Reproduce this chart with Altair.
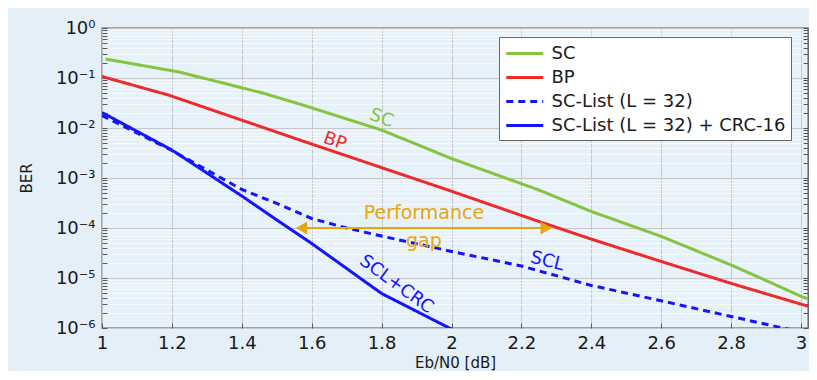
import altair as alt
import pandas as pd

# ---------------- data ----------------
series = ["SC", "BP", "SC-List (L = 32)", "SC-List (L = 32) + CRC-16"]
series_colors = ["#86c440", "#ee2b2b", "#1414ff", "#1414ff"]
series_dash = [[1, 0], [1, 0], [7, 5], [1, 0]]

sc_x = [1.01, 1.22, 1.46, 1.57, 1.80, 2.00, 2.25, 2.40, 2.60, 2.80, 2.90, 3.00, 3.04]
sc_ber = [0.24, 0.132, 0.050, 0.0295, 0.0091, 0.00245, 5.75e-4, 2.14e-4, 6.8e-5, 1.82e-5, 8.9e-6, 4.3e-6, 3.4e-6]

bp_x = [1.00, 1.19, 1.57, 1.99, 2.25, 2.40, 2.60, 2.80, 3.00, 3.04]
bp_ber = [0.107, 0.0457, 0.00562, 5.75e-4, 1.35e-4, 6.0e-5, 2.14e-5, 7.8e-6, 3.0e-6, 2.5e-6]

scl_x = [1.00, 1.20, 1.40, 1.50, 1.60, 1.70, 1.80, 2.00, 2.20, 2.40, 2.60, 2.80, 3.00]
scl_ber = [0.0178, 0.00355, 5.9e-4, 3.1e-4, 1.55e-4, 1.0e-4, 6.9e-5, 3.4e-5, 1.74e-5, 7.1e-6, 3.5e-6, 1.7e-6, 8.3e-7]

crc_x = [1.00, 1.20, 1.40, 1.50, 1.60, 1.80, 2.00]
crc_ber = [0.0204, 0.00363, 4.37e-4, 1.45e-4, 4.9e-5, 4.9e-6, 9.5e-7]

label_text = ["SC", "BP", "SCL", "SCL+CRC"]
label_x = [1.80, 1.666, 2.274, 1.842]
label_ber = [0.0155, 0.00537, 2.14e-5, 7.4e-6]
label_angle = [20, 19, 14, 36]
label_color = ["#86c440", "#ee2b2b", "#1414ff", "#1414ff"]

gap_text = ["Performance", "gap"]
gap_x = [1.921, 1.921]
gap_ber = [2.0e-4, 5.5e-5]

arrow_x = [1.571]
arrow_x2 = [2.271]
arrow_ber = [1e-4]
arrow_color = "#e6a60c"

x_ticks = [1.0, 1.2, 1.4, 1.6, 1.8, 2.0, 2.2, 2.4, 2.6, 2.8, 3.0]
y_major = [1e-6, 1e-5, 1e-4, 1e-3, 1e-2, 1e-1, 1.0]
y_labels = ["10⁻⁶", "10⁻⁵", "10⁻⁴", "10⁻³", "10⁻²", "10⁻¹", "10⁰"]
minor_mult = [2, 3, 4, 5, 6, 7, 8, 9]
y_ticks = sorted(y_major + [m * d for d in y_major[:-1] for m in minor_mult])

# ---------------- tables ----------------
rows = []
for name, xs, ys in zip(series, [sc_x, bp_x, scl_x, crc_x], [sc_ber, bp_ber, scl_ber, crc_ber]):
    for xv, yv in zip(xs, ys):
        rows.append({"series": name, "x": xv, "ber": yv})
df = pd.DataFrame(rows)

df_lab = pd.DataFrame({"text": label_text, "x": label_x, "ber": label_ber,
                       "angle": label_angle, "color": label_color})
df_gap = pd.DataFrame({"text": gap_text, "x": gap_x, "ber": gap_ber})
df_arrow = pd.DataFrame({"x": arrow_x, "x2": arrow_x2, "ber": arrow_ber})
df_heads = pd.DataFrame({"x": [arrow_x[0], arrow_x2[0]], "ber": [arrow_ber[0]] * 2,
                         "shape": ["triangle-left", "triangle-right"]})

FONT = "DejaVu Sans"
major_test = "abs(log(datum.value)/LN10 - round(log(datum.value)/LN10)) < 0.001"
label_expr = (major_test + " ? " + str(y_labels) + "[round(log(datum.value)/LN10) + 6] : ''")

xscale = alt.Scale(domain=[1, 3.02], nice=False, zero=False)
yscale = alt.Scale(type="log", domain=[1e-6, 1], nice=False)

x_axis = alt.Axis(values=x_ticks, format=".1~f", grid=True, gridColor="#c4c8cb", gridWidth=1,
                  domain=False, ticks=True, tickSize=5, tickColor="#555555", offset=-5,
                  labelPadding=6, labelFontSize=18, labelColor="#1a1a1a", labelFont=FONT,
                  labelFlush=False, labelOverlap=False,
                  title="Eb/N0 [dB]", titleFontSize=15, titleFontWeight="normal",
                  titleColor="#1a1a1a", titleFont=FONT, titleY=39, titleBaseline="middle")

y_axis = alt.Axis(values=y_ticks, labelExpr=label_expr, grid=True,
                  gridColor={"condition": {"test": major_test, "value": "#c4c8cb"}, "value": "#f6f9fc"},
                  gridWidth=1, domain=False, ticks=True, tickSize=5, tickColor="#555555",
                  offset=-5, labelPadding=7, labelFontSize=18, labelColor="#1a1a1a",
                  labelFont=FONT, labelOverlap=False, labelFlush=False,
                  title="BER", titleFontSize=15, titleFontWeight="normal", titleColor="#1a1a1a",
                  titleFont=FONT, titleX=-81, titleY=150, titleAngle=270, titleAlign="center",
                  titleBaseline="middle")

y_axis_right = alt.Axis(orient="right", values=y_ticks, labels=False, grid=False, domain=False,
                        ticks=True, tickSize=5, tickColor="#555555", offset=-5, title=None)

legend = alt.Legend(orient="none", legendX=397, legendY=9, title=None, fillColor="white",
                    strokeColor="#666666", padding=5.5, labelFont=FONT, labelFontSize=18,
                    labelColor="#1a1a1a", labelLimit=500, symbolType="M-1,0L3,0", symbolSize=342,
                    symbolStrokeWidth=3, rowPadding=4, labelOffset=25, cornerRadius=0)

X = alt.X("x:Q", scale=xscale)

lines = alt.Chart(df).mark_line(clip=True, strokeWidth=3).encode(
    x=alt.X("x:Q", scale=xscale, axis=x_axis),
    y=alt.Y("ber:Q", scale=yscale, axis=y_axis),
    color=alt.Color("series:N", scale=alt.Scale(domain=series, range=series_colors), legend=legend),
    strokeDash=alt.StrokeDash("series:N", scale=alt.Scale(domain=series, range=series_dash), legend=legend),
    detail="series:N",
)

right_ticks = alt.Chart(df).mark_point(opacity=0).encode(
    x=X,
    y=alt.Y("ber:Q", scale=yscale, axis=y_axis_right),
)

labels = alt.Chart(df_lab).mark_text(font=FONT, fontSize=18, align="center", baseline="middle").encode(
    x=X,
    y=alt.Y("ber:Q", scale=yscale, axis=None),
    text="text:N",
    angle=alt.Angle("angle:Q", scale=None),
    fill=alt.Fill("color:N", scale=None, legend=None),
)

gap = alt.Chart(df_gap).mark_text(font=FONT, fontSize=19, align="center", baseline="middle",
                                  color=arrow_color).encode(
    x=X,
    y=alt.Y("ber:Q", scale=yscale, axis=None),
    text="text:N",
)

arrow = alt.Chart(df_arrow).mark_rule(color=arrow_color, strokeWidth=2).encode(
    x=X,
    x2="x2:Q",
    y=alt.Y("ber:Q", scale=yscale, axis=None),
)

heads = alt.Chart(df_heads).mark_point(filled=True, size=170, color=arrow_color, opacity=1).encode(
    x=X,
    y=alt.Y("ber:Q", scale=yscale, axis=None),
    shape=alt.Shape("shape:N", scale=None, legend=None),
)

chart = alt.layer(lines, right_ticks, arrow, heads, gap, labels).resolve_axis(
    y="independent"
).properties(
    width=706, height=300,
    autosize=alt.AutoSizeParams(type="none"),
    padding={"left": 94, "top": 20, "right": 1, "bottom": 43},
).configure(background="#e4eff8", font=FONT).configure_view(
    fill="#e7f1f9", stroke="#505050", strokeWidth=1.3
)

chart.save("out.html", embed_options={"renderer": "svg", "actions": False})
